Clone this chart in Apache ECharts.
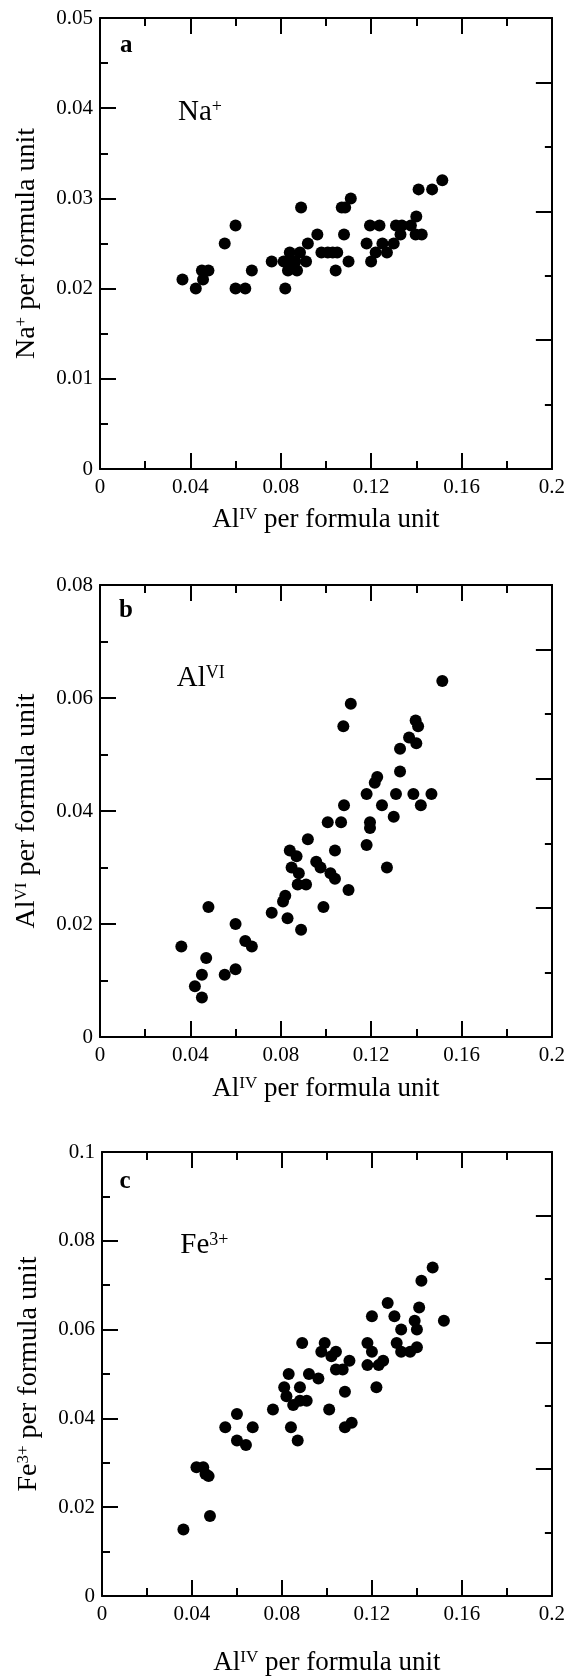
<!DOCTYPE html>
<html>
<head>
<meta charset="utf-8">
<script src="https://cdn.jsdelivr.net/npm/echarts@6/dist/echarts.min.js"></script>
<style>
html,body{margin:0;padding:0;background:#fff;}
#chart{width:568px;height:1677px;}
</style>
</head>
<body>
<div id="chart"></div>
<script>
// [Al(IV), cation] per formula unit
var naPoints = [
    [0.0365,0.021],[0.0424,0.020],[0.0451,0.022],[0.0456,0.021],[0.048,0.022],
    [0.0552,0.025],[0.060,0.027],[0.060,0.020],[0.0643,0.020],[0.0672,0.022],
    [0.076,0.023],[0.0813,0.023],[0.082,0.020],[0.0832,0.022],[0.084,0.024],
    [0.0848,0.023],[0.0864,0.023],[0.0872,0.022],[0.0885,0.024],[0.089,0.029],
    [0.0912,0.023],[0.092,0.025],[0.0962,0.026],[0.098,0.024],[0.1008,0.024],
    [0.103,0.024],[0.105,0.024],[0.1043,0.022],[0.107,0.029],[0.1085,0.029],
    [0.108,0.026],[0.110,0.023],[0.111,0.030],[0.118,0.025],[0.1195,0.027],
    [0.120,0.023],[0.122,0.024],[0.1237,0.027],[0.125,0.025],[0.127,0.024],
    [0.130,0.025],[0.131,0.027],[0.133,0.026],[0.1336,0.027],[0.1376,0.027],
    [0.140,0.028],[0.1397,0.026],[0.141,0.031],[0.1424,0.026],[0.147,0.031],
    [0.1515,0.032]
];
var alviPoints = [
    [0.036,0.016],[0.042,0.009],[0.0451,0.011],[0.0451,0.007],[0.047,0.014],
    [0.048,0.023],[0.0552,0.011],[0.060,0.020],[0.060,0.012],[0.0643,0.017],
    [0.0672,0.016],[0.076,0.022],[0.081,0.024],[0.082,0.025],[0.083,0.021],
    [0.084,0.033],[0.0848,0.030],[0.087,0.032],[0.088,0.029],[0.0875,0.027],
    [0.089,0.019],[0.0912,0.027],[0.092,0.035],[0.0957,0.031],[0.0976,0.030],
    [0.0989,0.023],[0.1008,0.038],[0.102,0.029],[0.104,0.028],[0.104,0.033],
    [0.1067,0.038],[0.1077,0.055],[0.108,0.041],[0.110,0.026],[0.111,0.059],
    [0.118,0.043],[0.118,0.034],[0.1195,0.038],[0.1195,0.037],[0.1216,0.045],
    [0.1227,0.046],[0.1248,0.041],[0.127,0.030],[0.130,0.039],[0.131,0.043],
    [0.1328,0.051],[0.1328,0.047],[0.1368,0.053],[0.1387,0.043],[0.1397,0.056],
    [0.140,0.052],[0.1408,0.055],[0.142,0.041],[0.1467,0.043],[0.1515,0.063]
];
var fePoints = [
    [0.0362,0.015],[0.042,0.029],[0.045,0.029],[0.046,0.0275],[0.0474,0.027],
    [0.048,0.018],[0.0548,0.038],[0.060,0.041],[0.060,0.035],[0.064,0.034],
    [0.067,0.038],[0.076,0.042],[0.081,0.047],[0.082,0.045],[0.083,0.050],
    [0.084,0.038],[0.085,0.043],[0.087,0.035],[0.088,0.047],[0.089,0.057],
    [0.088,0.044],[0.091,0.044],[0.092,0.050],[0.0962,0.049],[0.0975,0.055],
    [0.099,0.057],[0.101,0.042],[0.102,0.054],[0.104,0.055],[0.104,0.051],
    [0.107,0.051],[0.108,0.046],[0.108,0.038],[0.110,0.053],[0.111,0.039],
    [0.118,0.057],[0.118,0.052],[0.120,0.063],[0.120,0.055],[0.122,0.047],
    [0.123,0.052],[0.125,0.053],[0.127,0.066],[0.130,0.063],[0.131,0.057],
    [0.133,0.055],[0.133,0.060],[0.137,0.055],[0.139,0.062],[0.140,0.060],
    [0.140,0.056],[0.141,0.065],[0.142,0.071],[0.147,0.074],[0.152,0.062]
];

// axis ranges
var xMax = 0.2, xStep = 0.04;
var yMaxes = [0.05, 0.08, 0.1];
var ySteps = [0.01, 0.02, 0.02];
var rightDivisions = 7;

// texts
var panelLetters = ['a', 'b', 'c'];
var cationNames = ['{n|Na}{sup|+}', '{n|Al}{sup|VI}', '{n|Fe}{sup|3+}'];
var yNames = ['{n|Na}{sup|+}{n| per formula unit}', '{n|Al}{sup|VI}{n| per formula unit}', '{n|Fe}{sup|3+}{n| per formula unit}'];
var xName = '{n|Al}{sup|IV}{n| per formula unit}';
var letterPos = [[0.0116, 0.0469], [0.0115, 0.0754], [0.0102, 0.0934]];
var cationPos = [[0.0345, 0.0395], [0.034, 0.0634], [0.0348, 0.0789]];

var pointSets = [naPoints, alviPoints, fePoints];

var serif = "'Liberation Serif', 'DejaVu Serif', serif";
var grids = [
    {left: 100, top: 18, width: 452, height: 451},
    {left: 100, top: 585, width: 452, height: 452},
    {left: 102, top: 1152, width: 453, height: 451}
];
var xNameGaps = [37, 38, 53];

function richText(big, small) {
    return {
        n: {fontFamily: serif, fontSize: big, color: '#000'},
        sup: {fontFamily: serif, fontSize: small, color: '#000', verticalAlign: 'top', lineHeight: small}
    };
}

function tickAxis(extra) {
    var ax = {
        axisLine: {show: true, onZero: false, lineStyle: {color: '#000', width: 2}},
        axisTick: {show: true, inside: true, length: 16, lineStyle: {color: '#000', width: 2}},
        minorTick: {show: true, splitNumber: 2, length: 8, lineStyle: {color: '#000', width: 2}},
        splitLine: {show: false},
        axisLabel: {show: false}
    };
    for (var k in extra) ax[k] = extra[k];
    return ax;
}

var xAxes = [], yAxes = [], series = [];
for (var i = 0; i < 3; i++) {
    // bottom, labelled
    xAxes.push(tickAxis({
        type: 'value', gridIndex: i, position: 'bottom', min: 0, max: xMax, interval: xStep,
        axisLabel: {show: true, color: '#000', fontFamily: serif, fontSize: 21, margin: 8},
        name: xName, nameLocation: 'middle', nameGap: xNameGaps[i],
        nameTextStyle: {rich: richText(27, 17)}
    }));
    // top mirror
    xAxes.push(tickAxis({type: 'value', gridIndex: i, position: 'top', min: 0, max: xMax, interval: xStep}));

    yAxes.push(tickAxis({
        type: 'value', gridIndex: i, position: 'left', min: 0, max: yMaxes[i], interval: ySteps[i],
        axisLabel: {show: true, color: '#000', fontFamily: serif, fontSize: 21, margin: 7},
        name: yNames[i], nameLocation: 'middle', nameRotate: 90, nameGap: 59,
        nameTextStyle: {rich: richText(28, 17)}
    }));
    // right side has its own 7-part scale, no labels
    yAxes.push(tickAxis({
        type: 'value', gridIndex: i, position: 'right', min: 0, max: rightDivisions, interval: 1,
        axisTick: {show: true, inside: true, length: 7, lineStyle: {color: '#000', width: 2}},
        minorTick: {show: false}
    }));
    yAxes.push(tickAxis({
        type: 'value', gridIndex: i, position: 'right', min: 0, max: rightDivisions, interval: 2,
        minorTick: {show: false}
    }));

    series.push({
        type: 'scatter',
        xAxisIndex: i * 2, yAxisIndex: i * 3,
        symbol: 'circle', symbolSize: 12,
        itemStyle: {color: '#000', opacity: 1},
        data: pointSets[i]
    });
    // panel letter
    series.push({
        type: 'scatter', silent: true,
        xAxisIndex: i * 2, yAxisIndex: i * 3,
        symbolSize: 0,
        itemStyle: {opacity: 1},
        label: {show: true, position: 'inside', formatter: panelLetters[i],
            fontFamily: serif, fontWeight: 'bold', fontSize: 25, color: '#000'},
        data: [letterPos[i]]
    });
    // cation name
    series.push({
        type: 'scatter', silent: true,
        xAxisIndex: i * 2, yAxisIndex: i * 3,
        symbolSize: 0,
        itemStyle: {opacity: 1},
        label: {show: true, position: 'right', distance: 0, formatter: cationNames[i],
            rich: richText(29, 18)},
        data: [cationPos[i]]
    });
}

var chart = echarts.init(document.getElementById('chart'));
chart.setOption({
    backgroundColor: '#fff',
    animation: false,
    grid: grids,
    xAxis: xAxes,
    yAxis: yAxes,
    series: series
});
</script>
</body>
</html>
